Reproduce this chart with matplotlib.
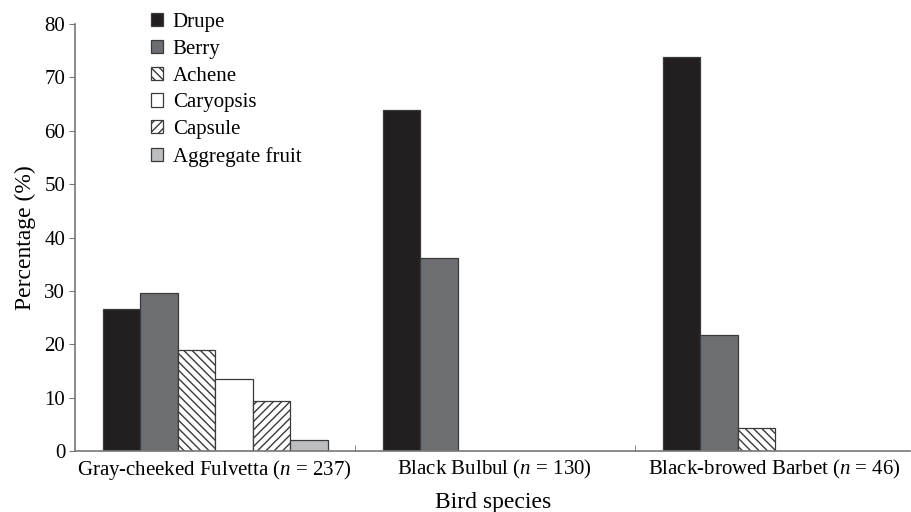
import numpy as np
import matplotlib
matplotlib.use("Agg")
import matplotlib.pyplot as plt

species = ["Gray-cheeked Fulvetta ($\\it{n}$ = 237)",
           "Black Bulbul ($\\it{n}$ = 130)",
           "Black-browed Barbet ($\\it{n}$ = 46)"]
fruit_types = ["Drupe", "Berry", "Achene", "Caryopsis", "Capsule", "Aggregate fruit"]

# percentages per fruit type, one value per species
drupe = [26.6, 63.9, 73.9]
berry = [29.6, 36.2, 21.8]
achene = [19.0, 0, 4.4]
caryopsis = [13.5, 0, 0]
capsule = [9.3, 0, 0]
aggregate = [2.1, 0, 0]

series = [drupe, berry, achene, caryopsis, capsule, aggregate]
colors = ["#231f20", "#6d6e71", "white", "white", "white", "#bcbec0"]
hatches = [None, None, "\\\\\\\\", None, "////", None]

plt.rcParams["font.family"] = ["Liberation Serif", "DejaVu Serif"]
plt.rcParams["mathtext.fontset"] = "custom"
plt.rcParams["mathtext.it"] = "Liberation Serif:italic"
plt.rcParams["mathtext.rm"] = "Liberation Serif"
plt.rcParams["hatch.linewidth"] = 1.0
plt.rcParams["hatch.color"] = "#231f20"

fig = plt.figure(figsize=(9.11, 5.12), dpi=100)
ax = fig.add_axes([0.0823, 0.119, 0.917, 0.834])

x = np.arange(len(species))
w = 0.134
start = -0.4
for i, vals in enumerate(series):
    keep = [j for j in range(len(vals)) if vals[j] > 0]
    ax.bar(x[keep] + start + w * (i + 0.5), [vals[j] for j in keep], width=w,
           color=colors[i], hatch=hatches[i], edgecolor="#3a3a3a",
           linewidth=0.9, label=fruit_types[i])

ax.set_xlim(-0.5, 2.485)
ax.set_ylim(0, 80)
ax.set_yticks(range(0, 81, 10))
ax.set_xticks(x)
ax.set_xticklabels(species, fontsize=15)
ax.set_xticks([0.5, 1.5], minor=True)
ax.tick_params(axis="x", which="major", length=0, pad=5)
ax.tick_params(axis="x", which="minor", direction="in", length=4, color="#777777")
ax.tick_params(axis="y", labelsize=15, length=4, color="#777777", pad=3)

for s in ["top", "right"]:
    ax.spines[s].set_visible(False)
for s in ["left", "bottom"]:
    ax.spines[s].set_color("#777777")
    ax.spines[s].set_linewidth(1.2)

ax.set_ylabel("Percentage (%)", fontsize=17, labelpad=6)
ax.set_xlabel("Bird species", fontsize=17, labelpad=7)

ax.legend(loc="upper left", bbox_to_anchor=(0.081, 1.045), frameon=False,
          fontsize=15, handlelength=0.6, handleheight=0.6, handletextpad=0.45,
          labelspacing=0.37, borderaxespad=0)

fig.savefig("out.png", dpi=100)
